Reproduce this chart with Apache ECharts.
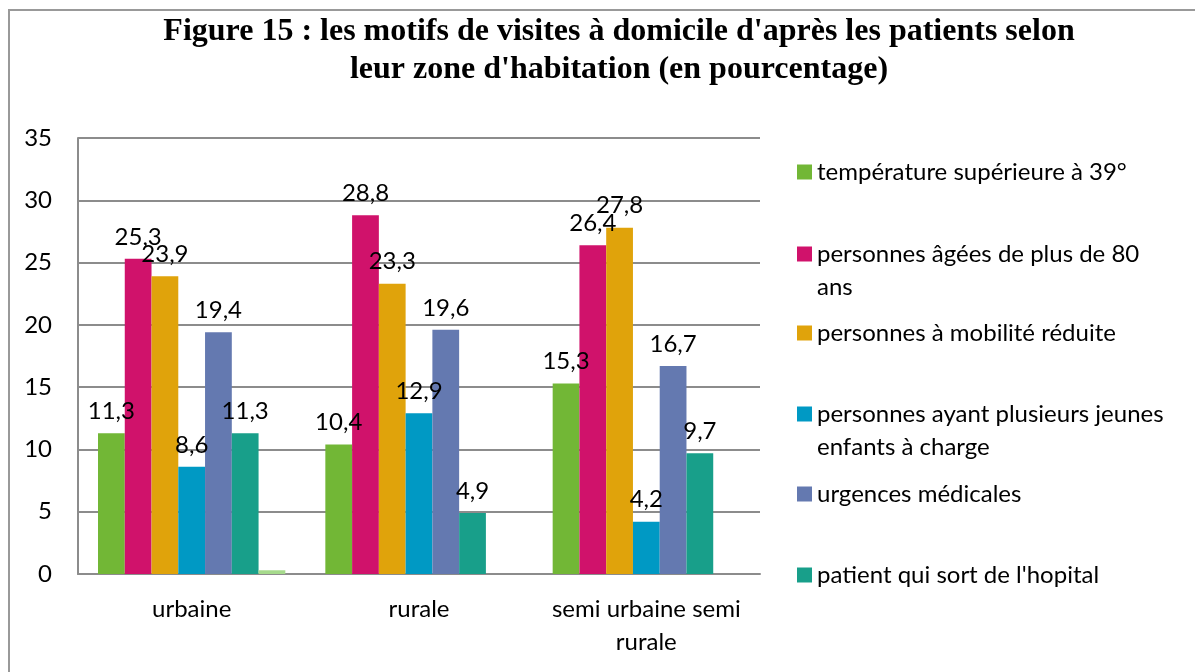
<!DOCTYPE html>
<html>
<head>
<meta charset="utf-8">
<script src="https://cdn.jsdelivr.net/npm/echarts@6/dist/echarts.min.js"></script>
<style>
  html, body { margin: 0; padding: 0; background: #fff; }
  #myChart { width: 1195px; height: 672px; }
</style>
</head>
<body>
<div id="myChart"></div>
<script>
// zones d'habitation
const categories = ['urbaine', 'rurale', 'semi urbaine semi\nrurale'];

// motifs
const seriesNames = [
    'température supérieure à 39°',
    'personnes âgées de plus de 80 ans',
    'personnes à mobilité réduite',
    'personnes ayant plusieurs jeunes enfants à charge',
    'urgences médicales',
    "patient qui sort de l'hopital"
];
// legend labels, wrapped as in the figure
const legendLabels = [
    'température supérieure à 39°',
    'personnes âgées de plus de 80\nans',
    'personnes à mobilité réduite',
    'personnes ayant plusieurs jeunes\nenfants à charge',
    'urgences médicales',
    "patient qui sort de l'hopital"
];

const temperature = [11.3, 10.4, 15.3];
const agees = [25.3, 28.8, 26.4];
const mobilite = [23.9, 23.3, 27.8];
const enfants = [8.6, 12.9, 4.2];
const urgences = [19.4, 19.6, 16.7];
const sortieHopital = [11.3, 4.9, 9.7];
const serie7 = [0.3, 0, 0];

const yTicks = [0, 5, 10, 15, 20, 25, 30, 35];

const colors = ['#72b736', '#d0126b', '#e0a30b', '#0099c4', '#6479b0', '#189f8a', '#a6da8c'];
const font = 'Lato, "Open Sans", sans-serif';

let series = [];
[temperature, agees, mobilite, enfants, urgences, sortieHopital].forEach((vals, i) => {
    series.push({
        name: seriesNames[i],
        type: 'bar',
        barGap: 0,
        barCategoryGap: '17.6%',
        data: vals,
        itemStyle: { color: colors[i] },
        label: {
            show: true,
            position: 'top',
            distance: 10,
            color: '#000',
            fontFamily: font,
            fontSize: 24,
            formatter: p => String(p.value).replace('.', ',')
        }
    })
});
series.push({
    name: 'Série7',
    type: 'bar',
    barGap: 0,
    barCategoryGap: '17.6%',
    data: serie7,
    itemStyle: { color: colors[6] },
    label: { show: false }
});

// one legend per item so the vertical spacing matches the figure
const legendCenters = [172, 254, 333, 414, 494, 575];
let legends = seriesNames.map((name, i) => {
    const twoLines = legendLabels[i].indexOf('\n') >= 0;
    return {
        data: [name],
        left: 797,
        top: twoLines ? legendCenters[i] - 49.5 : legendCenters[i] - 16.5,
        padding: 0,
        icon: 'rect',
        itemWidth: 15,
        itemHeight: 15,
        itemGap: 8,
        selectedMode: false,
        // an empty first line keeps the icon level with the first text line
        formatter: () => twoLines ? '\n' + legendLabels[i] : legendLabels[i],
        textStyle: {
            fontFamily: font,
            fontSize: 24,
            color: '#000',
            lineHeight: 33
        }
    };
});

let myChart = echarts.init(document.getElementById('myChart'));
let option = {
    animation: false,
    backgroundColor: '#fff',
    color: colors,
    title: {
        text: "Figure 15 : les motifs de visites à domicile d'après les patients selon\nleur zone d'habitation (en pourcentage)",
        left: 619,
        top: 13,
        padding: 0,
        textAlign: 'center',
        textStyle: {
            fontFamily: '"Liberation Serif", "Times New Roman", serif',
            fontWeight: 'bold',
            fontSize: 32,
            lineHeight: 38,
            color: '#000'
        }
    },
    graphic: [{
        type: 'rect',
        shape: { x: 9, y: 10, width: 1200, height: 700 },
        style: { fill: 'none', stroke: '#999', lineWidth: 2 },
        silent: true
    }],
    legend: legends,
    grid: { left: 78, right: 435, top: 138, bottom: 98, containLabel: false },
    xAxis: {
        type: 'category',
        data: categories,
        axisTick: { show: false },
        axisLine: { lineStyle: { color: '#8c8c8c', width: 2 } },
        axisLabel: {
            interval: 0,
            margin: 19,
            color: '#000',
            fontFamily: font,
            fontSize: 24,
            lineHeight: 33
        }
    },
    yAxis: {
        type: 'value',
        min: yTicks[0],
        max: yTicks[yTicks.length - 1],
        interval: 5,
        axisLine: { show: true, lineStyle: { color: '#8c8c8c', width: 2 } },
        axisTick: { show: false },
        splitLine: { lineStyle: { color: '#8c8c8c', width: 2 } },
        axisLabel: {
            margin: 26,
            color: '#000',
            fontFamily: font,
            fontSize: 24
        }
    },
    series: series
};
myChart.setOption(option);
</script>
</body>
</html>
